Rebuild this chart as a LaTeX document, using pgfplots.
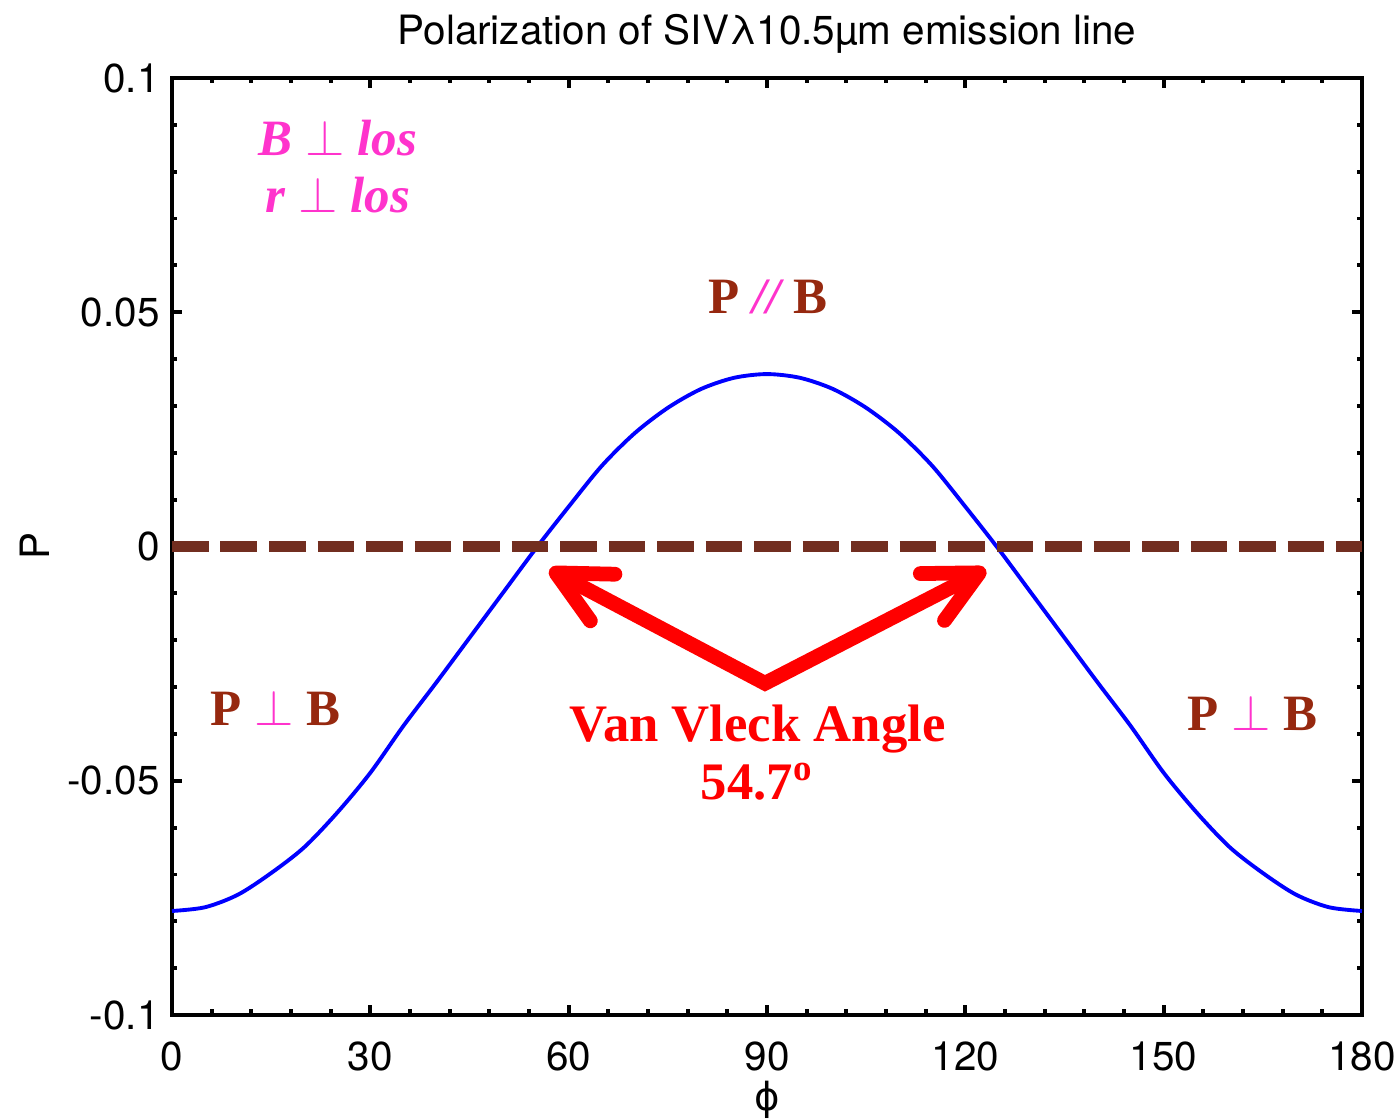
\documentclass[border=0pt]{standalone}
\usepackage{pgfplots}
\pgfplotsset{compat=1.18}
\usepackage{fontspec}
\setmainfont{TeX Gyre Heros}
\newfontfamily\serifb{Liberation Serif}
\newfontfamily\dejavu{DejaVu Sans}
\usetikzlibrary{arrows.meta}
\definecolor{mag}{RGB}{255,51,204}
\definecolor{brtxt}{RGB}{150,40,15}
\definecolor{dashbr}{RGB}{114,46,32}
\begin{document}
\begin{tikzpicture}
\useasboundingbox (-1.72cm,-1.05cm) rectangle (12.28cm,10.15cm);
\begin{axis}[
  at={(0,0)}, anchor=south west,
  scale only axis, width=11.9cm, height=9.37cm,
  xmin=0, xmax=180, ymin=-0.1, ymax=0.1,
  xtick={0,30,60,90,120,150,180},
  ytick={-0.1,-0.05,0,0.05,0.1},
  yticklabels={-0.1,-0.05,0,0.05,0.1},
  xticklabels={0,30,60,90,120,150,180},
  minor x tick num=4, minor y tick num=4,
  tick align=inside,
  major tick length=0.1cm, minor tick length=0.055cm,
  every tick/.style={black, line width=1.1pt},
  axis line style={line width=1.2pt},
  tick label style={font=\fontsize{11.5}{13}\selectfont},
  xticklabel style={yshift=-4pt},
  title={Polarization of SIVλ10.5µm emission line},
  title style={at={(0.5,1)}, anchor=base, yshift=3.5pt, font=\fontsize{11.5}{13}\selectfont},
  xlabel={{\dejavu ϕ}},
  xlabel style={at={(axis description cs:0.5,0)}, anchor=center, yshift=-0.85cm, font=\fontsize{11}{13}\selectfont},
  ylabel={P},
  ylabel style={at={(axis description cs:-0.115,0.5)}, anchor=center, font=\fontsize{11.5}{13}\selectfont},
  clip=false,
]
\addplot[blue, line width=1.1pt, smooth, tension=0.5] coordinates {
(0,-0.0778) (5,-0.0770) (10,-0.0743) (15,-0.0697) (20,-0.0642) (25,-0.0568)
(30,-0.0483) (35,-0.0383) (40,-0.0290) (45,-0.0195) (50,-0.0100) (55,-0.0005)
(60,0.0085) (65,0.0172) (70,0.0242) (75,0.0296) (80,0.0336) (85,0.0360)
(90,0.0368)
(95,0.0360) (100,0.0336) (105,0.0296) (110,0.0242) (115,0.0172) (120,0.0085)
(125,-0.0005) (130,-0.0100) (135,-0.0195) (140,-0.0290) (145,-0.0383) (150,-0.0483)
(155,-0.0568) (160,-0.0642) (165,-0.0697) (170,-0.0743) (175,-0.0770) (180,-0.0778)
};
\addplot[dashbr, line width=3.4pt, dash pattern=on 10.5pt off 3.3pt] coordinates {(0,0) (180,0)};
\draw[red, line width=4.2pt, line join=miter,
  {Straight Barb[round, length=15pt, width=15pt]}-{Straight Barb[round, length=15pt, width=15pt]}]
  (axis cs:57.1,-0.0049) -- (axis cs:89.7,-0.0292) -- (axis cs:123.1,-0.0049);
\node[anchor=base, text=mag, font=\serifb\bfseries\itshape\fontsize{14.5}{16}\selectfont] at (axis cs:25.1,0.0835) {B $\perp$ los};
\node[anchor=base, text=mag, font=\serifb\bfseries\itshape\fontsize{14.5}{16}\selectfont] at (axis cs:25.1,0.0712) {r $\perp$ los};
\node[anchor=base, text=brtxt, font=\serifb\bfseries\fontsize{14.5}{16}\selectfont] at (axis cs:90.1,0.0498) {P {\color{mag}\itshape//} B};
\node[anchor=base, text=brtxt, font=\serifb\bfseries\fontsize{14.5}{16}\selectfont] at (axis cs:15.7,-0.0382) {P {\color{mag}$\perp$} B};
\node[anchor=base, text=brtxt, font=\serifb\bfseries\fontsize{14.5}{16}\selectfont] at (axis cs:163.4,-0.0393) {P {\color{mag}$\perp$} B};
\node[anchor=base, text=red, font=\serifb\bfseries\fontsize{15}{17}\selectfont] at (axis cs:88.6,-0.0416) {Van Vleck Angle};
\node[anchor=base, text=red, font=\serifb\bfseries\fontsize{15}{17}\selectfont] at (axis cs:88.5,-0.0539) {54.7\textsuperscript{o}};
\end{axis}
\end{tikzpicture}
\end{document}
